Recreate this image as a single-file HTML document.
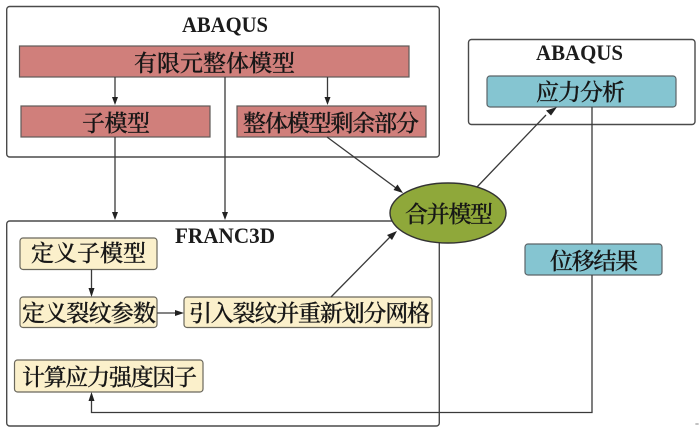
<!DOCTYPE html>
<html>
<head>
<meta charset="utf-8">
<style>
html,body{margin:0;padding:0;background:#fff;width:700px;height:439px;overflow:hidden}
svg{display:block}
.z{font-family:"Liberation Serif","Noto Serif CJK SC",serif;font-size:23px;fill:#161616;font-weight:500;stroke:#161616;stroke-width:.25px}
.l{font-family:"Liberation Serif",serif;font-size:22px;font-weight:bold;fill:#1c1c1c}
.b{fill:#fff;stroke:#4a4a4a;stroke-width:1.4}
.r{fill:#d07f7b;stroke:#5f5a58;stroke-width:1.2}
.c{fill:#85c5d1;stroke:#5c6468;stroke-width:1.2}
.y{fill:#fbf0cb;stroke:#6a675c;stroke-width:1.2}
.w{fill:none;stroke:#3a3a3a;stroke-width:1.3}
.a{fill:#222;stroke:none}
</style>
</head>
<body>
<svg width="700" height="439" viewBox="0 0 700 439" xmlns="http://www.w3.org/2000/svg">
<rect width="700" height="439" fill="#fff"/>

<rect class="b" x="6.7" y="6.500" width="432.6" height="150.5" rx="3"/>
<rect class="b" x="468.500" y="39.500" width="226.5" height="85" rx="3"/>
<rect class="b" x="6.7" y="221" width="432.6" height="205" rx="3"/>

<rect class="r" x="19.500" y="46" width="389.5" height="31"/>
<rect class="r" x="21" y="106" width="189" height="31"/>
<rect class="r" x="237" y="106" width="189" height="31"/>
<rect class="c" x="487" y="76" width="189" height="31" rx="3"/>
<rect class="c" x="525" y="244" width="137" height="31" rx="3"/>
<rect class="y" x="20" y="238" width="137" height="31.5" rx="3"/>
<rect class="y" x="20" y="297" width="137" height="30.5" rx="3"/>
<rect class="y" x="184" y="297" width="248" height="30.5" rx="3"/>
<rect class="y" x="14.500" y="360" width="188.5" height="32" rx="3"/>

<path class="w" d="M115 77V98M115 137V212M225 77V212M327.500 77V98M327 137L396 188M477 187L546 115M592 107V244M592 275V412.500H91.500V400M91.500 269.500V288M157 313H176M331 297L390 237"/>
<path class="w" d="M439 243V221"/>

<path class="a" d="M115 105L112 97H118Z"/>
<path class="a" d="M115 220L112 212H118Z"/>
<path class="a" d="M225 220L222 212H228Z"/>
<path class="a" d="M327.500 105L324.500 97H330.500Z"/>
<path class="a" d="M403 193L393.500 190L397.500 184.500Z"/>
<path class="a" d="M557 107L551 115.500L546 110.500Z"/>
<path class="a" d="M397 231L392 240L387 235Z"/>
<path class="a" d="M91.500 297L88.500 288H94.500Z"/>
<path class="a" d="M184 313L175 310V316Z"/>
<path class="a" d="M91.500 392L88.500 401H94.500Z"/>

<ellipse cx="448" cy="213" rx="58" ry="30" fill="#8fa83a" stroke="#333" stroke-width="1.4"/>

<text class="l" x="182" y="32" textLength="86" lengthAdjust="spacingAndGlyphs">ABAQUS</text>
<text class="l" x="536" y="60" textLength="87" lengthAdjust="spacingAndGlyphs">ABAQUS</text>
<text class="l" x="175" y="243" textLength="100" lengthAdjust="spacingAndGlyphs">FRANC3D</text>

<text class="z" x="134" y="71" textLength="161" lengthAdjust="spacing">有限元整体模型</text>
<text class="z" x="82" y="131" textLength="68" lengthAdjust="spacing">子模型</text>
<text class="z" x="243" y="131" textLength="176" lengthAdjust="spacing">整体模型剩余部分</text>
<text class="z" x="536" y="100" textLength="89" lengthAdjust="spacing">应力分析</text>
<text class="z" x="405" y="222" textLength="88" lengthAdjust="spacing">合并模型</text>
<text class="z" x="550" y="269" textLength="88" lengthAdjust="spacing">位移结果</text>
<text class="z" x="31" y="261" textLength="115" lengthAdjust="spacing">定义子模型</text>
<text class="z" x="22" y="321" textLength="134" lengthAdjust="spacing">定义裂纹参数</text>
<text class="z" x="189" y="321" textLength="241" lengthAdjust="spacing">引入裂纹并重新划分网格</text>
<text class="z" x="22" y="385" textLength="175" lengthAdjust="spacing">计算应力强度因子</text>

<path d="M695 424H699M697 423V425" stroke="#999" stroke-width=".7" fill="none"/>
</svg>
</body>
</html>
